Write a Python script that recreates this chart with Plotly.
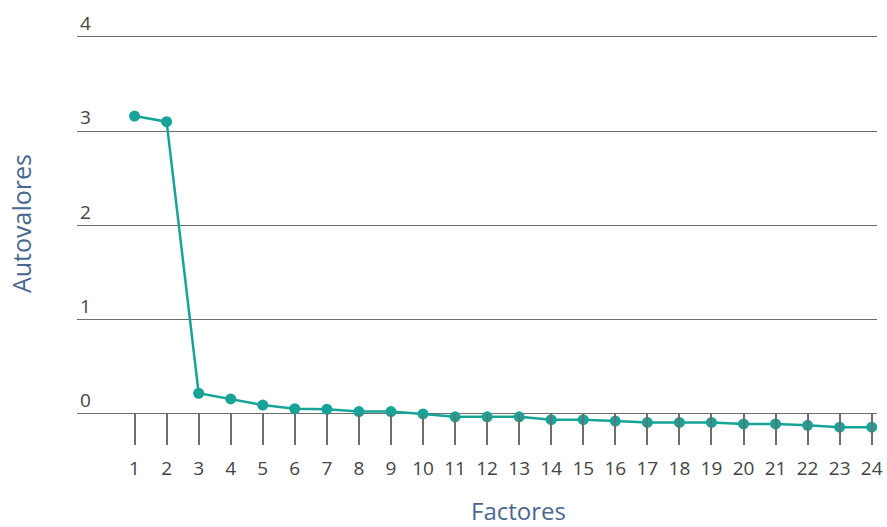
import plotly.graph_objects as go

# scree plot data
factores = list(range(1, 25))
autovalores = [3.16, 3.10, 0.22, 0.16, 0.095, 0.056, 0.05, 0.025, 0.025, 0.0,
               -0.03, -0.03, -0.03, -0.06, -0.06, -0.075, -0.09, -0.09, -0.09,
               -0.105, -0.105, -0.12, -0.14, -0.14]
y_ticks = [0, 1, 2, 3, 4]

teal = "#17a398"
grid = "#6e6e6e"
label_col = "#444444"
title_col = "#4a6890"
font_family = "Open Sans, Lato, sans-serif"

fig = go.Figure()
fig.add_trace(go.Scatter(
    x=factores, y=autovalores, mode="lines+markers",
    line=dict(color=teal, width=2.5),
    marker=dict(color=teal, size=11),
    cliponaxis=False, showlegend=False,
))

fig.update_layout(
    width=887, height=527,
    margin=dict(l=77, r=10, t=34, b=82),
    plot_bgcolor="white", paper_bgcolor="white",
    font=dict(family=font_family, color=label_col, size=19),
)

fig.update_xaxes(
    range=[-0.796, 24.165], automargin=False,
    tickvals=factores, ticktext=[str(v) for v in factores],
    showgrid=False, zeroline=False, showline=False,
    ticks="inside", ticklen=31, tickwidth=1.5, tickcolor=grid,
    ticklabelstandoff=10,
    tickfont=dict(size=19, color=label_col, family=font_family),
)
fig.update_yaxes(
    range=[-0.329, 4.03], automargin=False,
    tickvals=y_ticks, ticktext=[str(v) for v in y_ticks],
    showgrid=True, gridcolor=grid, gridwidth=1.2,
    zeroline=False, showline=False,
    ticklabelposition="inside top", ticklabeloverflow="allow",
    tickfont=dict(size=19, color=label_col, family=font_family),
)

fig.add_annotation(text="Autovalores", xref="paper", yref="paper",
                   x=-0.07, y=0.54, xanchor="center", yanchor="middle",
                   textangle=-90, showarrow=False,
                   font=dict(size=25, color=title_col, family=font_family))
fig.add_annotation(text="Factores", xref="paper", yref="paper",
                   x=0.552, y=-0.16, xanchor="center", yanchor="middle",
                   showarrow=False,
                   font=dict(size=24, color=title_col, family=font_family))

# page has a default body margin, drop it so the chart sits at 0,0
fig.write_html("out.html", config={"displayModeBar": False},
               post_script="document.body.style.margin='0';")
